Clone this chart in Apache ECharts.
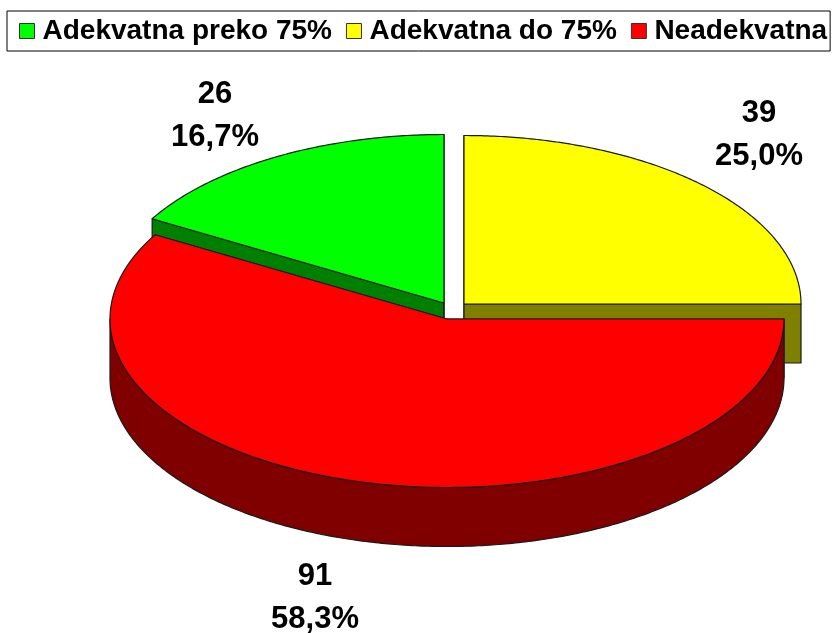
<!DOCTYPE html>
<html><head><meta charset="utf-8">
<style>html,body{margin:0;padding:0;background:#fff}#c{width:832px;height:633px}</style>
<script src="https://cdn.jsdelivr.net/npm/echarts@6/dist/echarts.min.js"></script>
</head><body><div id="c"></div>
<script>
const categories = ['Adekvatna preko 75%', 'Adekvatna do 75%', 'Neadekvatna'];
const values = [26, 39, 91];
const percentLabels = ['16,7%', '25,0%', '58,3%'];
const topColors = ['#00ff00', '#ffff00', '#ff0000'];
const sideColors = ['#008000', '#808000', '#800000'];
// drawing layout: slice centres (exploded), label centres, ellipse shape
const centers = [[444, 303], [464, 304], [447, 319]];
const labelPos = [[215, 116], [759, 135], [315, 598]];
const RX = 337, RY = 168.5, DEPTH = 59;
const edge = '#1a1a1a';
const total = values.reduce((a, b) => a + b, 0);
// slices run clockwise from 12 o'clock, starting with yellow, then red, then green
const drawOrder = [1, 2, 0];
const startOf = {};
(function () { let acc = 0; drawOrder.forEach(i => { startOf[i] = acc; acc += values[i]; }); })();
function pt(c, t) { return [c[0] + RX * Math.sin(t), c[1] - RY * Math.cos(t)]; }
function arc(c, a, b) {
  const n = Math.max(8, Math.ceil(Math.abs(b - a) / 0.01)), out = [];
  for (let k = 0; k <= n; k++) out.push(pt(c, a + (b - a) * k / n));
  return out;
}
function poly(points, fill, z2) {
  return { type: 'polygon', z2: z2, shape: { points: points },
    style: { fill: fill, stroke: edge, lineWidth: 1.2, lineJoin: 'round' } };
}
function drop(p) { return [p[0], p[1] + DEPTH]; }
function renderSlice(idx) {
  return function (params, api) {
    const v = api.value(0);
    const a = startOf[idx] / total * 2 * Math.PI, b = (startOf[idx] + v) / total * 2 * Math.PI;
    const c = centers[idx], rim = arc(c, a, b), side = sideColors[idx], kids = [];
    // cut faces
    [a, b].forEach(t => {
      const p = pt(c, t);
      kids.push(poly([c, p, drop(p), drop(c)], side, 1));
    });
    // outer wall: only the part of the rim facing the viewer
    const wa = Math.max(a, Math.PI / 2), wb = Math.min(b, 1.5 * Math.PI);
    if (wb > wa) {
      const w = arc(c, wa, wb);
      kids.push(poly(w.concat(w.slice().reverse().map(drop)), side, 2));
    }
    kids.push(poly([c].concat(rim), topColors[idx], 3));
    kids.push({ type: 'text', z2: 5, style: {
      x: labelPos[idx][0], y: labelPos[idx][1], align: 'center', verticalAlign: 'middle',
      text: v + '\n' + percentLabels[idx], fill: '#000', lineHeight: 43,
      font: 'bold 31px "Liberation Sans", Arial, sans-serif' } });
    return { type: 'group', children: kids };
  };
}
const chart = echarts.init(document.getElementById('c'));
chart.setOption({
  animation: false,
  backgroundColor: '#fff',
  legend: {
    left: 7, top: 11, itemWidth: 15, itemHeight: 15, itemGap: 14,
    padding: [6, 3, 6, 12], borderColor: '#000', borderWidth: 1,
    icon: 'rect', selectedMode: false,
    itemStyle: { borderColor: '#333', borderWidth: 1 },
    textStyle: { fontFamily: '"Liberation Sans", Arial, sans-serif', fontWeight: 'bold', fontSize: 28, color: '#000', padding: [0, 0, 0, 3] },
    data: categories
  },
  series: categories.map((name, i) => ({
    type: 'custom', name: name, coordinateSystem: 'none', silent: true,
    itemStyle: { color: topColors[i] }, z: i === 2 ? 3 : i + 1,
    renderItem: renderSlice(i),
    data: [[values[i]]]
  }))
});
</script></body></html>
